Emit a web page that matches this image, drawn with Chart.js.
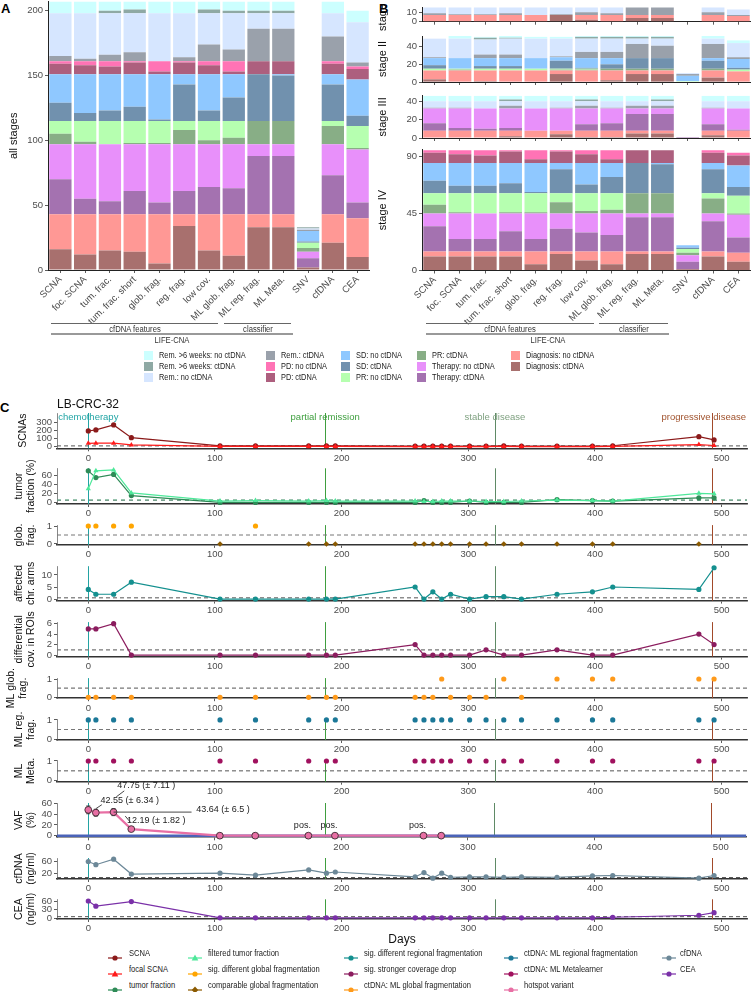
<!DOCTYPE html>
<html>
<head>
<meta charset="utf-8">
<script src="https://cdn.jsdelivr.net/npm/chart.js@4.4.1/dist/chart.umd.min.js"></script>
<style>
  html, body { margin: 0; padding: 0; background: #fff; }
  body { width: 751px; height: 992px; position: relative; overflow: hidden; font-family: 'Liberation Sans', Arial, sans-serif; color: #222; }
  canvas { position: absolute; }
  .tag { position: absolute; font-weight: bold; font-size: 13px; color: #000; line-height: 1; }
  .br { position: absolute; height: 0; border-top: 1px solid #666; }
  .brk { position: absolute; height: 0; border-top: 2px solid #999; }
  .brt { position: absolute; font-size: 8.5px; color: #333; line-height: 1; white-space: nowrap; transform: translateX(-50%) scaleX(0.9); }
  .leg { position: absolute; font-size: 9px; line-height: 1; white-space: nowrap; color: #222; transform: scaleX(0.82); transform-origin: left center; }
  .sw { position: absolute; width: 9px; height: 9px; }
  .cleg { position: absolute; line-height: 1; white-space: nowrap; color: #222; transform-origin: left center; }
  .ckey { position: absolute; }
</style>
</head>
<body>
<div class="tag" style="left:1px;top:2px">A</div>
<div class="tag" style="left:379px;top:2px">B</div>
<div class="tag" style="left:0px;top:401px">C</div>
<script>
// ---------- panels A and B : stacked counts ----------
const categories = ['SCNA', 'foc. SCNA', 'tum. frac.', 'tum. frac. short', 'glob. frag.', 'reg. frag.', 'low cov.',
  'ML glob. frag.', 'ML reg. frag.', 'ML Meta.', 'SNV', 'cfDNA', 'CEA'];
const segmentNames = ['Diagnosis: ctDNA', 'Diagnosis: no ctDNA', 'Therapy: ctDNA', 'Therapy: no ctDNA',
  'PR: ctDNA', 'PR: no ctDNA', 'SD: ctDNA', 'SD: no ctDNA', 'PD: ctDNA', 'PD: no ctDNA',
  'Rem.: ctDNA', 'Rem.: no ctDNA', 'Rem. >6 weeks: ctDNA', 'Rem. >6 weeks: no ctDNA'];
const segmentColors = ['#a8706e', '#ff9895', '#a472b0', '#e890fa', '#88ae86', '#b6ffb0', '#7191ae', '#8fc8ff',
  '#ad5f7e', '#ff73b5', '#9aa1ab', '#d6e6ff', '#8fa9a4', '#ccffff'];

// all stages
const allDiagCt = [16, 12, 15, 14, 5, 34, 15, 11, 33, 33, 2, 21, 10];
const allDiagNo = [27, 31, 28, 29, 38, 9, 28, 32, 10, 10, 0, 22, 30];
const allThCt   = [27, 12, 10, 18, 9, 18, 21, 20, 45, 45, 7, 30, 12];
const allThNo   = [27, 42, 44, 36, 45, 36, 33, 34, 9, 9, 5, 24, 41];
const allPrCt   = [8, 2, 0, 1, 1, 11, 3, 5, 18, 18, 3, 14, 1];
const allPrNo   = [10, 16, 18, 17, 17, 7, 15, 13, 0, 0, 4, 4, 17];
const allSdCt   = [14, 6, 8, 11, 1, 28, 8, 18, 36, 35, 1, 28, 8];
const allSdNo   = [22, 30, 28, 25, 35, 8, 28, 18, 0, 1, 8, 8, 28];
const allPdCt   = [8, 7, 6, 9, 2, 9, 7, 2, 10, 10, 0, 8, 8];
const allPdNo   = [2, 3, 4, 1, 8, 1, 3, 8, 0, 0, 0, 2, 2];
const allRemCt  = [4, 2, 5, 7, 0, 3, 13, 9, 25, 25, 1, 19, 3];
const allRemNo  = [33, 35, 32, 30, 37, 34, 24, 28, 12, 12, 1, 18, 31];
const allR6Ct   = [0, 0, 2, 3, 0, 0, 3, 2, 2, 2, 1, 0, 0];
const allR6No   = [9, 9, 7, 6, 9, 9, 6, 7, 7, 7, 0, 9, 9];

// stage I
const st1DiagCt = [0, 0, 0, 0, 0, 7, 2, 0, 4, 4, 0, 0, 0];
const st1DiagNo = [7, 7, 7, 7, 7, 0, 5, 7, 3, 3, 0, 7, 6];
const st1RemCt  = [2, 1, 1, 2, 0, 1, 3, 2, 8, 8, 0, 3, 1];
const st1RemNo  = [6, 7, 7, 6, 8, 7, 5, 6, 0, 0, 0, 5, 6];
// stage II
const st2DiagCt = [3, 0, 1, 0, 0, 9, 0, 2, 9, 9, 0, 5, 0];
const st2DiagNo = [10, 13, 12, 13, 13, 4, 13, 11, 4, 4, 0, 8, 12];
const st2PrCt   = [0, 1, 0, 0, 0, 1, 1, 2, 2, 2, 0, 2, 0];
const st2PrNo   = [2, 1, 2, 2, 2, 1, 1, 0, 0, 0, 1, 0, 2];
const st2SdCt   = [4, 0, 3, 3, 0, 9, 1, 5, 12, 12, 0, 9, 2];
const st2SdNo   = [8, 12, 9, 9, 12, 4, 11, 7, 0, 0, 6, 3, 10];
const st2RemCt  = [1, 0, 4, 4, 0, 1, 7, 7, 16, 14, 2, 16, 2];
const st2RemNo  = [21, 22, 17, 18, 22, 20, 15, 15, 6, 8, 1, 6, 16];
const st2R6Ct   = [0, 0, 2, 1, 0, 0, 2, 2, 2, 2, 0, 0, 0];
const st2R6No   = [0, 3, 1, 2, 2, 2, 1, 1, 1, 1, 0, 3, 3];
// stage III
const st3DiagCt = [0, 0, 0, 2, 0, 4, 1, 1, 5, 5, 0, 3, 0];
const st3DiagNo = [8, 8, 8, 6, 8, 4, 7, 7, 3, 3, 0, 5, 8];
const st3ThCt   = [8, 3, 2, 3, 0, 0, 7, 8, 18, 18, 1, 7, 1];
const st3ThNo   = [16, 21, 22, 21, 24, 24, 17, 16, 6, 6, 0, 17, 23];
const st3RemCt  = [1, 1, 0, 3, 0, 1, 3, 1, 3, 3, 0, 1, 0];
const st3RemNo  = [7, 7, 8, 5, 8, 7, 5, 7, 5, 5, 0, 7, 8];
const st3R6Ct   = [0, 0, 0, 2, 0, 0, 2, 0, 0, 2, 0, 0, 0];
const st3R6No   = [6, 6, 6, 4, 6, 6, 4, 6, 6, 4, 0, 6, 6];
// stage IV
const st4DiagCt = [11, 11, 11, 11, 5, 13, 8, 5, 13, 13, 1, 11, 7];
const st4DiagNo = [4, 4, 4, 4, 10, 2, 7, 10, 2, 2, 0, 4, 7];
const st4ThCt   = [20, 10, 10, 16, 10, 18, 15, 13, 27, 27, 6, 24, 12];
const st4ThNo   = [10, 20, 20, 14, 20, 12, 15, 17, 3, 3, 5, 6, 18];
const st4PrCt   = [7, 1, 0, 1, 1, 9, 2, 3, 16, 16, 2, 12, 1];
const st4PrNo   = [9, 15, 16, 15, 15, 7, 14, 13, 0, 0, 3, 4, 14];
const st4SdCt   = [10, 6, 6, 8, 1, 19, 7, 13, 24, 23, 1, 19, 7];
const st4SdNo   = [14, 18, 18, 16, 23, 5, 17, 11, 0, 1, 2, 5, 17];
const st4PdCt   = [8, 7, 6, 9, 3, 9, 7, 3, 10, 10, 0, 8, 8];
const st4PdNo   = [2, 3, 4, 1, 7, 1, 3, 7, 0, 0, 0, 2, 2];

const ticksAll = [0, 50, 100, 150, 200];
const ticksSt1 = [0, 10];
const ticksSt2 = [0, 20, 40];
const ticksSt3 = [0, 20, 40];
const ticksSt4 = [0, 45, 90];

// ---------- panel C : LB-CRC-32 time course ----------
const days = [0, 6, 20, 34, 104, 132, 174, 188, 195, 258, 265, 272, 279, 286, 301, 314, 328, 342, 370, 398, 414, 482, 494];
const scna          = [196, 209, 271, 113, 10, 12, 10, 12, 10, 8, 8, 8, 8, 8, 8, 8, 10, 8, 8, 8, 12, 125, 84];
const focalScna     = [42, 44, 44, 22, 3, 3, 3, 3, 3, 2, 2, 2, 2, 2, 2, 2, 3, 2, 2, 2, 3, 27, 15];
const tumorFraction = [70, 55, 62, 15, 0, 0, 0, 0, 0, 0, 4, 0, 0, 0, 3, 0, 0, 0, 6, 4, 3, 10, 10];
const filteredTF    = [30, 70, 72, 21, 3, 4, 3, 4, 3, 3, 2, 2, 3, 3, 3, 2, 2, 3, 5, 4, 3, 20, 19];
const globFrag      = [1, 1, 1, 1, 0, 1, 0, 0, 0, 0, 0, 0, 0, 0, 0, 0, 0, 0, 0, 0, 0, 0, null];
const chrArms       = [4, 2, 2, 7, 0, 0, 0, 0, 0, 5, 0, 3, 0, 2, 0, 1, 1, 0, 2, 3, 5, 4, 13];
const covDrop       = [5, 5, 6, 0, 0, 0, 0, 0, 0, 2, 0, 0, 0, 0, 0, 1, 0, 0, 1, 0, 0, 4, 2];
const mlGlob        = [0, 0, 0, 0, 0, 0, 0, 0, 0, 0, 0, 0, 1, 0, 0, 0, 1, 0, 1, 1, 1, 1, 1];
const mlReg         = [1, 1, 1, 1, 1, 1, 1, 1, 1, 1, 1, 1, 1, 1, 1, 1, 1, 1, 1, 1, 1, 1, 1];
const mlMeta        = [1, 1, 1, 1, 1, 1, 1, 1, 1, 1, 1, 1, 1, 1, 1, 1, 1, 1, 1, 1, 1, 1, 1];
const cfdna         = [60, 49, 68, 17, 20, 13, 31, 20, 24, 7, 22, 3, 20, 6, 7, 7, 6, 7, 6, 11, 12, 3, 12];
const vafDays = [0, 6, 20, 34, 104, 132, 174, 195, 265, 279];
const vaf     = [47.75, 42.55, 43.64, 12.19, 0, 0, 0, 0, 0, 0];
const vafErr  = [7.11, 6.34, 6.5, 1.82, 0, 0, 0, 0, 0, 0];
const vafPos  = [false, false, false, false, false, false, true, true, true, false];
const ceaDays = [0, 6, 34, 104, 132, 174, 188, 195, 258, 265, 272, 279, 286, 301, 314, 328, 342, 370, 398, 414, 482, 494];
const cea     = [60, 42, 58, 1, 1, 1, 1, 1, 1, 1, 1, 1, 1, 1, 1, 1, 1, 1, 1, 3, 10, 19];
const eventDays   = [0, 187, 321, 492];
const eventLabels = ['chemotherapy', 'partial remission', 'stable disease', 'progressive disease'];
const dayTicks = [0, 100, 200, 300, 400, 500];
const cutScna = 10, cutTF = 5, cutBinary = 0.5, cutArms = 0.5, cutCov = 1, cutVaf = 0, cutCfdna = 5, cutCea = 5;

// ---------- styling ----------
const eventColors = ['#23a3a3', '#3f9e3f', '#5f8a66', '#a24a2a'];
const eventTextColors = ['#22a5a5', '#40a040', '#80a282', '#a0522d'];
const dayMin = -24.7, dayMax = 520;

function hasFont(name) {
  const c = document.createElement('canvas').getContext('2d');
  const s = 'abcdefghijklmnopqrstuvwxyz ABCDEFGHIJKLMNOP 0123456789';
  c.font = '20px monospace';
  const m = c.measureText(s).width;
  c.font = '20px "' + name + '", monospace';
  return Math.abs(c.measureText(s).width - m) > 0.5;
}
const NARROW = hasFont('Liberation Sans Narrow');
const fC = NARROW ? "'Liberation Sans Narrow', 'Liberation Sans', sans-serif" : "'Liberation Sans', Arial, sans-serif";
const fAB = "'Liberation Sans', Arial, sans-serif";
const sz = NARROW ? { tick: 10.5, title: 12, ev: 11, leg: 10.5, ann: 10.5, days: 13 }
                  : { tick: 9.5, title: 10.5, ev: 9.5, leg: 8.8, ann: 9, days: 12 };
Chart.defaults.font.family = fAB;

function placeCanvas(left, top, w, h) {
  const c = document.createElement('canvas');
  c.width = w; c.height = h;
  c.style.left = left + 'px'; c.style.top = top + 'px';
  c.style.width = w + 'px'; c.style.height = h + 'px';
  document.body.appendChild(c);
  return c;
}
function fixAxis(size, isX) {
  return function (s) {
    if (isX) { s.height = size; s.paddingLeft = 0; s.paddingRight = 0; }
    else { s.width = size; s.paddingTop = 0; s.paddingBottom = 0; }
  };
}
function setTicks(vals) { return function (s) { s.ticks = vals.map(v => ({ value: v })); }; }
const tickGrid = { display: true, drawOnChartArea: false, drawTicks: true, tickLength: 3, color: '#333', lineWidth: 0.8, offset: false };

// stacked bar facet; area given in page pixels
function barFacet(left, width, yW, areaTop, areaBottom, minXH, yMax, yTicks, title, titlePad, showLabels, segs) {
  const cTop = Math.floor(areaTop - 6);
  const cH = Math.ceil(areaBottom + minXH) - cTop;
  const cv = placeCanvas(left, cTop, width, cH);
  new Chart(cv, {
    type: 'bar',
    data: {
      labels: categories,
      datasets: segs.map(s => ({
        label: segmentNames[s[0]], data: s[1], backgroundColor: segmentColors[s[0]],
        borderWidth: 0, barPercentage: 0.9, categoryPercentage: 1
      }))
    },
    options: {
      responsive: false, animation: false, devicePixelRatio: 1,
      layout: { padding: { top: areaTop - cTop, left: 0, right: 0, bottom: 0 } },
      plugins: { legend: { display: false }, tooltip: { enabled: false } },
      scales: {
        x: {
          stacked: true, afterFit: fixAxis(cTop + cH - areaBottom, true),
          grid: tickGrid, border: { display: true, color: '#222', width: 1 },
          ticks: { display: showLabels, autoSkip: false, minRotation: 45, maxRotation: 45, color: '#4d4d4d',
                   font: { family: fAB, size: 9.5 }, padding: 1 }
        },
        y: {
          stacked: true, min: 0, max: yMax, afterFit: fixAxis(yW, false), afterBuildTicks: setTicks(yTicks),
          grid: tickGrid, border: { display: true, color: '#222', width: 1 },
          ticks: { autoSkip: false, color: '#4d4d4d', font: { family: fAB, size: 9.5 }, padding: 2 },
          title: { display: true, text: title, color: '#111', font: { family: fAB, size: 11 },
                   padding: { top: titlePad, bottom: 0 } }
        }
      }
    }
  });
}

barFacet(0, 370, 48, 1.6, 270, 60, 207, ticksAll, 'all stages', 7.5, true, [
  [0, allDiagCt], [1, allDiagNo], [2, allThCt], [3, allThNo], [4, allPrCt], [5, allPrNo], [6, allSdCt],
  [7, allSdNo], [8, allPdCt], [9, allPdNo], [10, allRemCt], [11, allRemNo], [12, allR6Ct], [13, allR6No]]);
barFacet(372, 379, 50, 7.1, 21.7, 10, 15.5, ticksSt1, 'stage I', 4, false, [
  [0, st1DiagCt], [1, st1DiagNo], [10, st1RemCt], [11, st1RemNo]]);
barFacet(372, 379, 50, 36, 82, 4, 52, ticksSt2, 'stage II', 4, false, [
  [0, st2DiagCt], [1, st2DiagNo], [4, st2PrCt], [5, st2PrNo], [6, st2SdCt], [7, st2SdNo],
  [10, st2RemCt], [11, st2RemNo], [12, st2R6Ct], [13, st2R6No]]);
barFacet(372, 379, 50, 95.7, 138, 4, 46, ticksSt3, 'stage III', 4, false, [
  [0, st3DiagCt], [1, st3DiagNo], [2, st3ThCt], [3, st3ThNo], [10, st3RemCt], [11, st3RemNo],
  [12, st3R6Ct], [13, st3R6No]]);
barFacet(372, 379, 50, 149.7, 270.5, 59.5, 95.5, ticksSt4, 'stage IV', 4, true, [
  [0, st4DiagCt], [1, st4DiagNo], [2, st4ThCt], [3, st4ThNo], [4, st4PrCt], [5, st4PrNo],
  [6, st4SdCt], [7, st4SdNo], [8, st4PdCt], [9, st4PdNo]]);

// brackets under A and B
function bracket(x1, x2, y, text, thick) {
  const d = document.createElement('div');
  d.className = thick ? 'brk' : 'br';
  d.style.left = x1 + 'px'; d.style.top = y + 'px'; d.style.width = (x2 - x1) + 'px';
  document.body.appendChild(d);
  const t = document.createElement('div');
  t.className = 'brt'; t.textContent = text;
  t.style.left = ((x1 + x2) / 2) + 'px'; t.style.top = (y + (thick ? 2.5 : 1.5)) + 'px';
  document.body.appendChild(t);
}
bracket(51, 218, 323, 'cfDNA features', false);
bracket(224, 291, 323, 'classifier', false);
bracket(51, 293, 333, 'LIFE-CNA', true);
bracket(426, 594, 323, 'cfDNA features', false);
bracket(599, 668, 323, 'classifier', false);
bracket(426, 669, 333, 'LIFE-CNA', true);

// legend for A/B (column-major, 3 rows)
const abLegendCols = [[13, 12, 11], [10, 9, 8], [7, 6, 5], [4, 3, 2], [1, 0]];
const abColX = [144, 266, 341, 417, 511];
const abRowY = [355, 366, 377];
abLegendCols.forEach((col, ci) => col.forEach((si, ri) => {
  const s = document.createElement('div');
  s.className = 'sw'; s.style.background = segmentColors[si];
  s.style.left = abColX[ci] + 'px'; s.style.top = (abRowY[ri] - 4.5) + 'px';
  document.body.appendChild(s);
  const t = document.createElement('div');
  t.className = 'leg'; t.textContent = segmentNames[si];
  t.style.left = (abColX[ci] + 15) + 'px'; t.style.top = (abRowY[ri] - 4.5) + 'px';
  document.body.appendChild(t);
}));

// ---------- panel C helpers ----------
const eventPlugin = {
  id: 'events',
  beforeDatasetsDraw(chart) {
    const { ctx, chartArea: a, scales: { x } } = chart;
    ctx.save();
    eventDays.forEach((d, i) => {
      const px = Math.round(x.getPixelForValue(d)) + 0.5;
      ctx.strokeStyle = eventColors[i]; ctx.lineWidth = 1;
      ctx.beginPath(); ctx.moveTo(px, a.top); ctx.lineTo(px, a.bottom); ctx.stroke();
    });
    ctx.restore();
  }
};
const headerPlugin = {
  id: 'header',
  afterDraw(chart) {
    const { ctx, chartArea: a, scales: { x } } = chart;
    ctx.save();
    ctx.textBaseline = 'middle';
    ctx.font = '12px ' + fAB; ctx.fillStyle = '#111'; ctx.textAlign = 'left';
    ctx.fillText('LB-CRC-32', a.left, a.top - 8);
    ctx.font = sz.ev + 'px ' + fC; ctx.textAlign = 'center';
    eventDays.forEach((d, i) => {
      const w = ctx.measureText(eventLabels[i]).width;
      let px = x.getPixelForValue(d);
      px = Math.min(px, a.right - w / 2 - 1);
      ctx.fillStyle = eventTextColors[i];
      ctx.fillText(eventLabels[i], px, a.top + 4);
    });
    ctx.restore();
  }
};
const vafOffsets = [[58, -24], [34, -12.5], [109.5, -3], [25, -9]];
const vafLeaders = [[28, -13, 36, -19], [0, -4, 6, -8], [0, 0, 78, 0], [-6, -13, -1, -7]];
const vafPlugin = {
  id: 'vafExtras',
  beforeDatasetsDraw(chart) {
    const { ctx, scales: { x, y } } = chart;
    ctx.save();
    ctx.strokeStyle = '#333'; ctx.lineWidth = 1;
    vafDays.forEach((d, i) => {
      if (!vafErr[i]) return;
      const px = x.getPixelForValue(d);
      const y1 = y.getPixelForValue(vaf[i] - vafErr[i]), y2 = y.getPixelForValue(vaf[i] + vafErr[i]);
      ctx.beginPath(); ctx.moveTo(px, y1); ctx.lineTo(px, y2);
      ctx.moveTo(px - 2, y1); ctx.lineTo(px + 2, y1); ctx.moveTo(px - 2, y2); ctx.lineTo(px + 2, y2);
      ctx.stroke();
    });
    ctx.restore();
  },
  afterDatasetsDraw(chart) {
    const { ctx, scales: { x, y } } = chart;
    ctx.save();
    ctx.font = sz.ann + 'px ' + fC; ctx.fillStyle = '#222'; ctx.textAlign = 'center'; ctx.textBaseline = 'middle';
    ctx.strokeStyle = '#333'; ctx.lineWidth = 0.9;
    let k = 0;
    vafDays.forEach((d, i) => {
      const px = x.getPixelForValue(d), py = y.getPixelForValue(vaf[i]);
      if (vafErr[i]) {
        const o = vafOffsets[k], l = vafLeaders[k];
        ctx.beginPath(); ctx.moveTo(px + l[0], py + l[1]); ctx.lineTo(px + l[2], py + l[3]); ctx.stroke();
        ctx.fillText(vaf[i] + ' (\u00b1 ' + vafErr[i] + ' )', px + o[0], py + o[1]);
        k++;
      }
      if (vafPos[i]) ctx.fillText('pos.', px - 6, py - 10);
    });
    ctx.restore();
  }
};

function hline(v, color, dash, width) {
  return { data: [{ x: dayMin, y: v }, { x: dayMax, y: v }], borderColor: color, borderDash: dash,
           borderWidth: width || 1, pointRadius: 0, clip: false, order: 10, showLine: true };
}
function series(xs, ys, color, style, extra) {
  const pts = [];
  xs.forEach((d, i) => { if (ys[i] !== null) pts.push({ x: d, y: ys[i] }); });
  return Object.assign({
    data: pts, borderColor: color, backgroundColor: color, pointBackgroundColor: color, pointBorderColor: color,
    pointRadius: 2.6, pointBorderWidth: 0, pointStyle: style || 'circle', borderWidth: 1.2, showLine: true,
    clip: false, order: 1
  }, extra || {});
}
function pointsOnly(xs, ys, keep, color, style, r) {
  const pts = [];
  xs.forEach((d, i) => { if (ys[i] !== null && keep(ys[i])) pts.push({ x: d, y: ys[i] }); });
  return { data: pts, showLine: false, pointRadius: r || 2.6, pointBorderWidth: 0, pointStyle: style || 'circle',
           pointBackgroundColor: color, pointBorderColor: color, borderColor: color, backgroundColor: color, clip: false, order: 1 };
}

function track(spec) {
  const padTop = spec.padTop || 14;
  const minXH = spec.xH || 22;
  const cTop = Math.floor(spec.top - padTop);
  const cH = Math.ceil(spec.bottom + minXH) - cTop;
  const cv = placeCanvas(0, cTop, 751, cH);
  const tl = NARROW ? 13.2 : 12;
  new Chart(cv, {
    type: 'line',
    data: { datasets: spec.datasets },
    plugins: [eventPlugin].concat(spec.plugins || []),
    options: {
      responsive: false, animation: false, devicePixelRatio: 1,
      layout: { padding: { top: spec.top - cTop, left: 0, right: 0, bottom: 0 } },
      plugins: { legend: { display: false }, tooltip: { enabled: false } },
      scales: {
        x: {
          type: 'linear', min: dayMin, max: dayMax, afterFit: fixAxis(cTop + cH - spec.bottom, true),
          afterBuildTicks: setTicks(dayTicks), grid: tickGrid, border: { color: '#333', width: 1.6 },
          ticks: { autoSkip: false, color: '#4d4d4d', font: { family: fC, size: sz.tick }, padding: 1, maxRotation: 0 },
          title: spec.xTitle ? { display: true, text: spec.xTitle, color: '#111', font: { family: fC, size: sz.days }, padding: 0 }
                             : { display: false }
        },
        y: {
          min: spec.min, max: spec.max, afterFit: fixAxis(57, false), afterBuildTicks: setTicks(spec.ticks),
          grid: tickGrid, border: { color: '#555', width: 0.7 },
          ticks: { autoSkip: false, color: '#4d4d4d', font: { family: fC, size: sz.tick }, padding: 2 },
          title: { display: true, text: spec.title, color: '#111', font: { family: fC, size: sz.title, lineHeight: tl / sz.title },
                   padding: { top: (spec.titleX || 19) - tl / 2, bottom: 0 } }
        }
      }
    }
  });
}

track({ top: 413, bottom: 448.3, padTop: 15, min: -20, max: 420, ticks: [0, 100, 200, 300], title: 'SCNAs', titleX: 23,
  plugins: [headerPlugin],
  datasets: [hline(cutScna, '#555', [4, 3]),
    series(days, focalScna, '#ff1a1a', 'triangle', { pointRadius: 3 }),
    series(days, scna, '#8b1a1a', 'circle')] });
track({ top: 468.3, bottom: 504, min: -3.6, max: 75.6, ticks: [0, 20, 40, 60], title: ['tumor', 'fraction (%)'],
  datasets: [hline(cutTF, '#777', [4, 4]), hline(cutTF, '#52e39c', [4, 4], 1.2),
    series(days, filteredTF, '#4ee89a', 'triangle', { pointRadius: 3 }),
    series(days, tumorFraction, '#2e8b57', 'circle')] });
track({ top: 525.1, bottom: 544.9, min: -0.05, max: 1.05, ticks: [0, 1], title: ['glob.', 'frag.'],
  datasets: [hline(cutBinary, '#777', [4, 3]),
    pointsOnly(days, globFrag, v => v === 1, '#ffa500', 'circle'),
    pointsOnly(days, globFrag, v => v === 0, '#8b5a00', 'rectRot', 2.8)] });
track({ top: 566.2, bottom: 600.6, min: -0.65, max: 13.65, ticks: [0, 5, 10], title: ['affected', 'chr. arms'],
  datasets: [hline(cutArms, '#555', [4, 3]), series(days, chrArms, '#14908f', 'circle')] });
track({ top: 622.1, bottom: 656.6, min: -0.3, max: 6.3, ticks: [0, 2, 4, 6], title: ['differential', 'cov. in ROIs'],
  datasets: [hline(cutCov, '#777', [4, 3], 1.3), series(days, covDrop, '#8b1c5e', 'circle')] });
track({ top: 678.1, bottom: 698.2, min: -0.05, max: 1.05, ticks: [0, 1], title: ['ML glob.', 'frag.'], titleX: 11,
  datasets: [hline(cutBinary, '#777', [4, 3], 1.2), pointsOnly(days, mlGlob, v => true, '#ff9a1a', 'circle')] });
track({ top: 719, bottom: 740, min: -0.05, max: 1.05, ticks: [0, 1], title: ['ML reg.', 'frag.'],
  datasets: [hline(cutBinary, '#777', [4, 3], 1.2), pointsOnly(days, mlReg, v => true, '#1b7898', 'circle')] });
track({ top: 760, bottom: 781.7, min: -0.05, max: 1.05, ticks: [0, 1], title: ['ML', 'Meta.'],
  datasets: [hline(cutBinary, '#555', [4, 3]), pointsOnly(days, mlMeta, v => true, '#a0115e', 'circle')] });
track({ top: 803, bottom: 837.3, padTop: 25, min: -3, max: 60.5, ticks: [0, 20, 40, 60], title: ['VAF', '(%)'],
  plugins: [vafPlugin],
  datasets: [hline(cutVaf, '#4a63b8', [], 2.6), hline(cutVaf, '#a9b4d8', [4, 3], 0.8),
    series(vafDays, vaf, '#e86fa4', 'circle', { borderWidth: 2.2, pointRadius: 3.4, pointBorderWidth: 0.9,
      pointBorderColor: '#3a2a30', pointBackgroundColor: '#e86fa4' })] });
track({ top: 858, bottom: 879, min: 0, max: 72, ticks: [20, 60], title: ['cfDNA', '(ng/ml)'],
  datasets: [hline(cutCfdna, '#555', [4, 3]), series(days, cfdna, '#6c8898', 'circle')] });
track({ top: 899.3, bottom: 919, min: -3.2, max: 66, ticks: [0, 30, 60], title: ['CEA', '(ng/ml)'], xH: 28, xTitle: 'Days',
  datasets: [hline(cutCea, '#555', [4, 3]), series(ceaDays, cea, '#7a30a8', 'circle')] });

// ---------- legend for C ----------
const cLegendCols = [
  [['SCNA', '#8b1a1a', 'circle'], ['focal SCNA', '#ff1a1a', 'triangle'], ['tumor fraction', '#2e8b57', 'circle']],
  [['filtered tumor fraction', '#4ee89a', 'triangle'], ['sig. different global fragmentation', '#ffa500', 'circle'], ['comparable global fragmentation', '#8b5a00', 'diamond']],
  [['sig. different regional fragmentation', '#14908f', 'circle'], ['sig. stronger coverage drop', '#8b1c5e', 'circle'], ['ctDNA: ML global fragmentation', '#ff9a1a', 'circle']],
  [['ctDNA: ML regional fragmentation', '#1b7898', 'circle'], ['ctDNA: ML Metalearner', '#a0115e', 'circle'], ['hotspot variant', '#e86fa4', 'circle']],
  [['cfDNA', '#6c8898', 'circle'], ['CEA', '#7a30a8', 'circle']]
];
const cKeyX = [115, 195, 351, 511, 669];
const cTextX = [129, 208, 364, 524, 680];
const cRowY = [954, 970, 986];
function keySvg(color, shape) {
  let m = '<circle cx="8" cy="5" r="2.6" fill="' + color + '"/>';
  if (shape === 'triangle') m = '<polygon points="8,1.6 11.3,7.4 4.7,7.4" fill="' + color + '"/>';
  if (shape === 'diamond') m = '<polygon points="8,1.6 11.2,5 8,8.4 4.8,5" fill="' + color + '"/>';
  return '<svg width="16" height="10" xmlns="http://www.w3.org/2000/svg"><line x1="1" y1="5" x2="15" y2="5" stroke="' +
    color + '" stroke-width="1.2"/>' + m + '</svg>';
}
cLegendCols.forEach((col, ci) => col.forEach((it, ri) => {
  const k = document.createElement('div');
  k.className = 'ckey'; k.innerHTML = keySvg(it[1], it[2]);
  k.style.left = (cKeyX[ci] - 8) + 'px'; k.style.top = (cRowY[ri] - 5) + 'px';
  document.body.appendChild(k);
  const t = document.createElement('div');
  t.className = 'cleg'; t.textContent = it[0];
  t.style.fontFamily = fC; t.style.fontSize = sz.leg + 'px';
  if (!NARROW) t.style.transform = 'scaleX(0.86)';
  t.style.left = cTextX[ci] + 'px'; t.style.top = (cRowY[ri] - sz.leg / 2 - 0.5) + 'px';
  document.body.appendChild(t);
}));
</script>
</body>
</html>
